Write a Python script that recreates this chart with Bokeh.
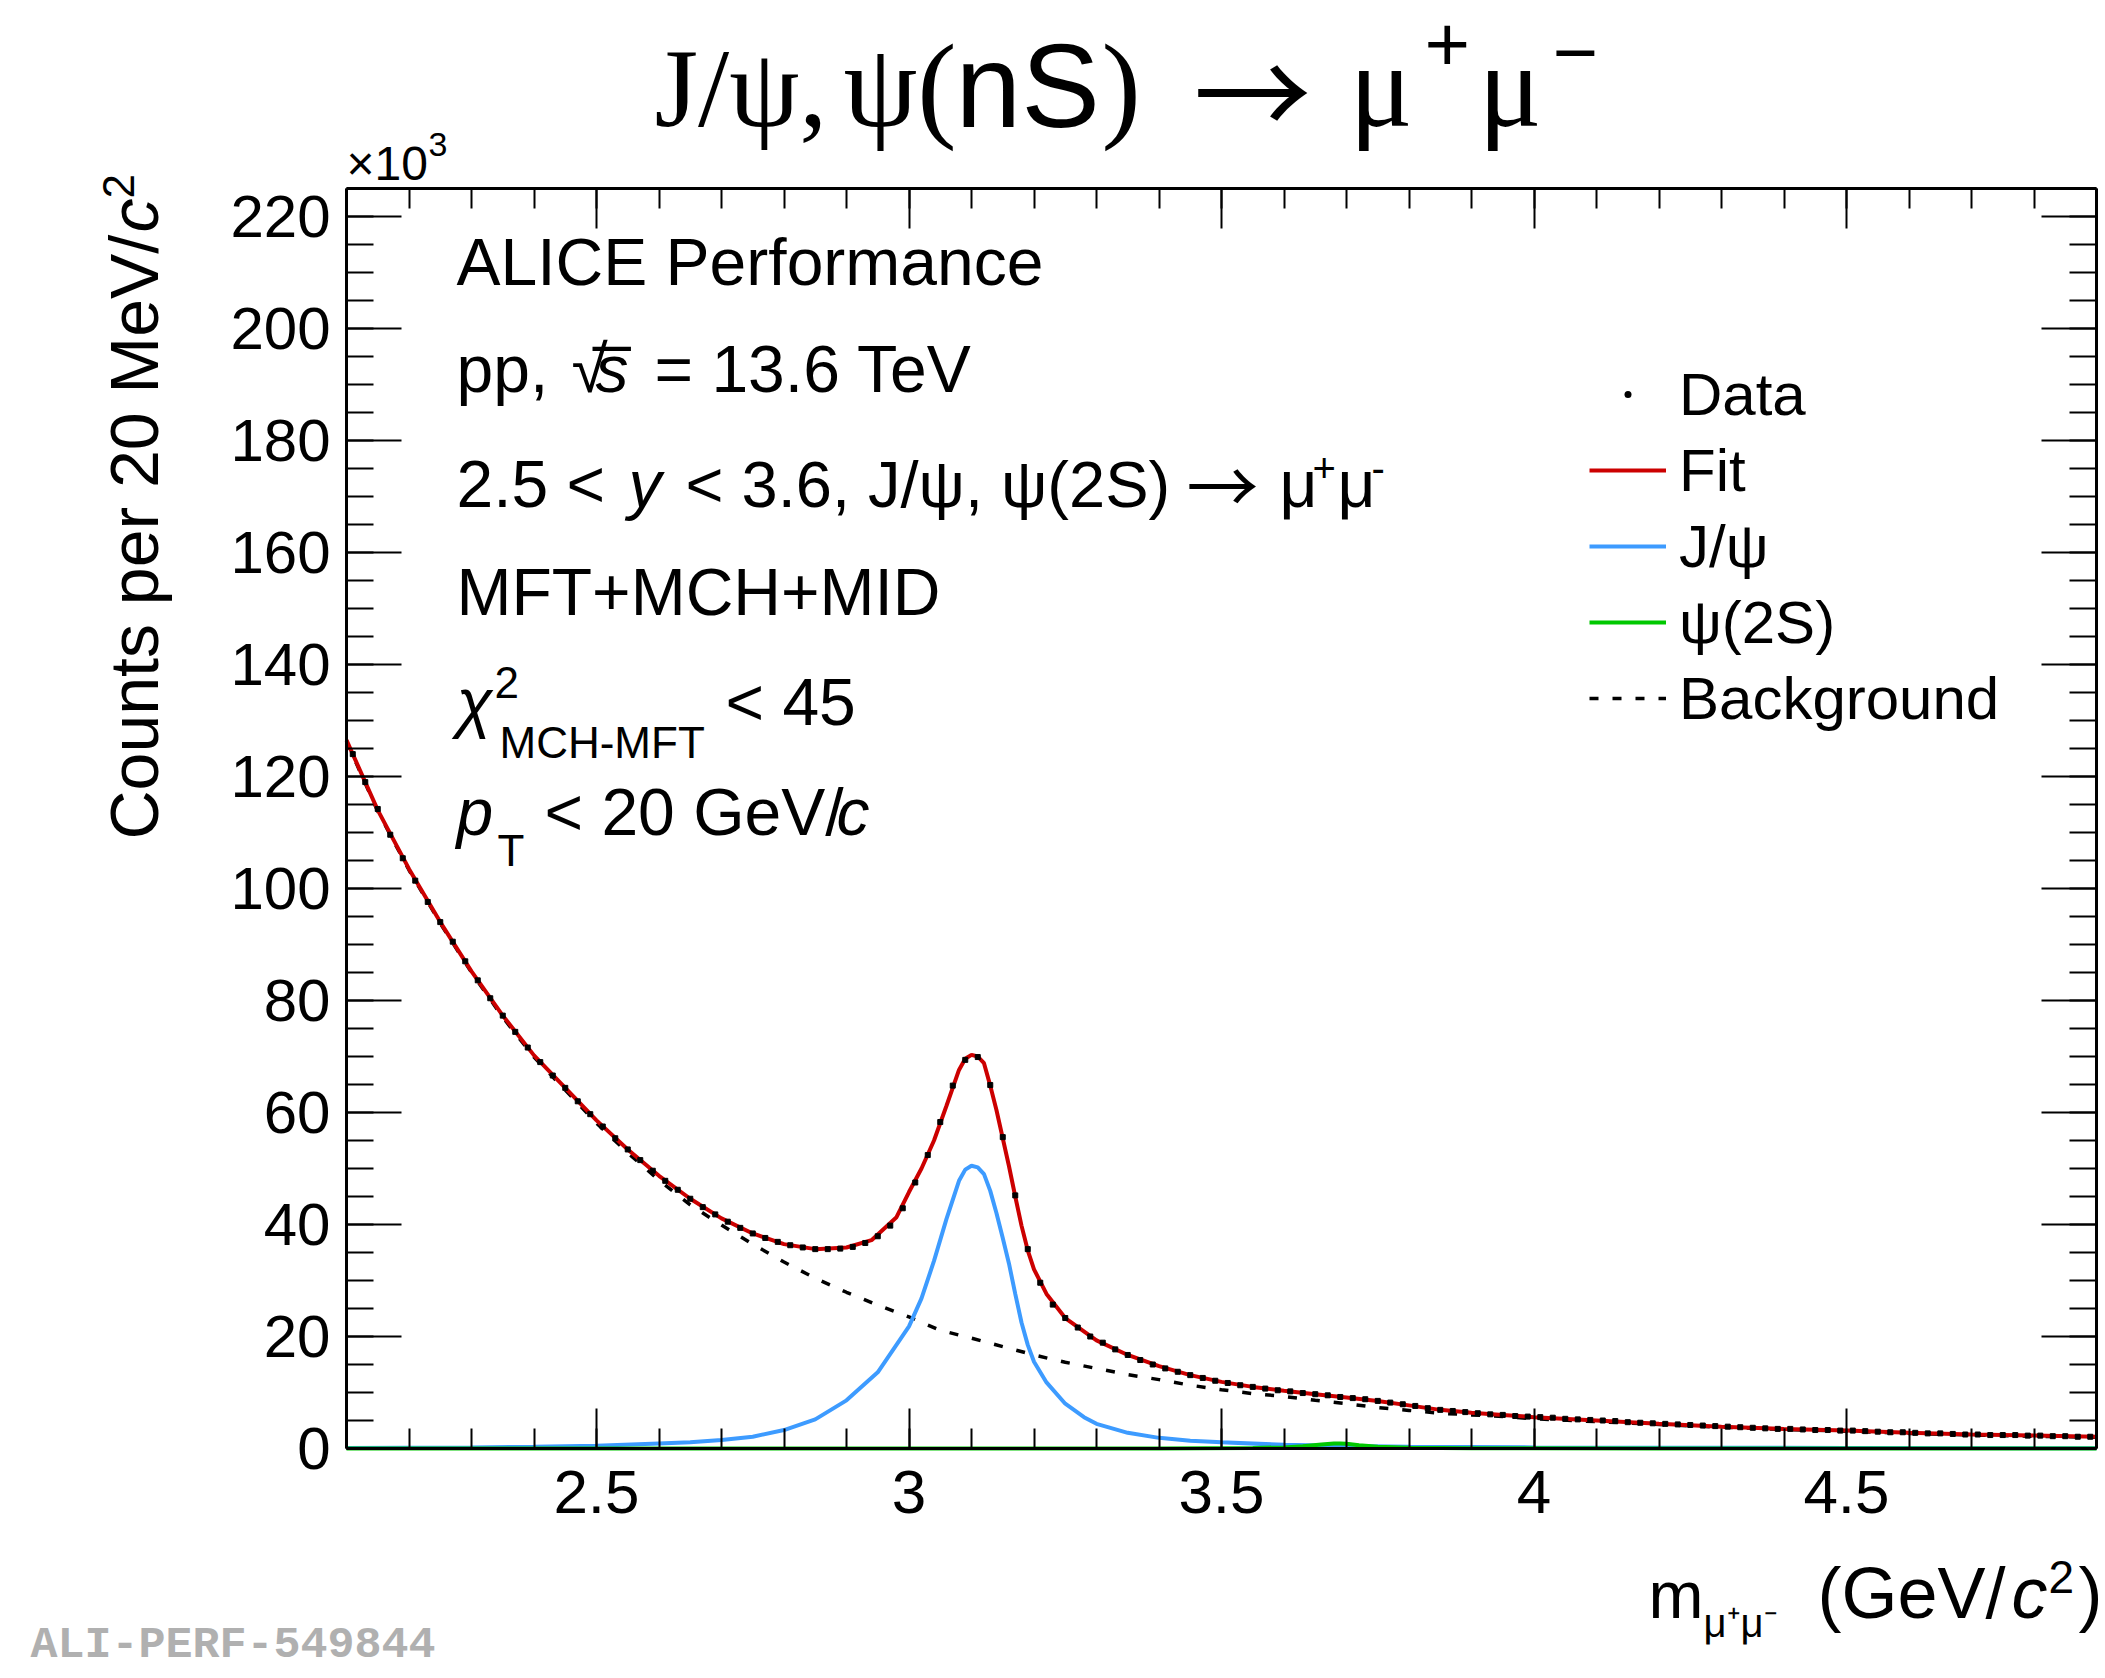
import numpy as np
from bokeh.plotting import figure
from bokeh.models import (Range1d, LinearAxis, SingleIntervalTicker, NumeralTickFormatter,
                          Label, Legend, LegendItem, CustomLabelingPolicy)
from bokeh.embed import file_html
from bokeh.resources import INLINE

# ---------------- data (counts in units of 10^3) -------------
X_MIN, X_MAX = 2.1, 4.9
Y_MIN, Y_MAX = 0.0, 225.0
BIN_WIDTH = 0.02

data_counts = [
    124.0, 119.0, 114.2, 109.6, 105.4, 101.4, 97.6, 94.0, 90.5, 87.0,
    83.6, 80.4, 77.3, 74.4, 71.6, 69.0, 66.6, 64.4, 62.0, 59.7,
    57.5, 55.4, 53.4, 51.5, 49.6, 47.8, 46.2, 44.6, 43.1, 41.8,
    40.5, 39.4, 38.4, 37.6, 36.9, 36.3, 35.9, 35.6, 35.6, 35.7,
    36.0, 36.7, 37.9, 39.8, 42.9, 47.5, 52.4, 58.3, 64.8, 69.4,
    69.9, 64.9, 55.6, 45.2, 35.6, 29.6, 25.7, 23.3, 21.6, 20.0,
    18.9, 17.7, 16.7, 15.8, 15.0, 14.3, 13.7, 13.1, 12.6, 12.1,
    11.7, 11.3, 11.0, 10.7, 10.4, 10.2, 9.9, 9.7, 9.5, 9.2,
    9.0, 8.8, 8.5, 8.2, 7.9, 7.6, 7.2, 6.9, 6.7, 6.5,
    6.3, 6.1, 6.0, 5.8, 5.7, 5.6, 5.5, 5.3, 5.2, 5.1,
    5.0, 4.9, 4.7, 4.6, 4.5, 4.4, 4.3, 4.2, 4.1, 4.0,
    3.9, 3.8, 3.7, 3.6, 3.5, 3.5, 3.4, 3.3, 3.3, 3.2,
    3.2, 3.1, 3.0, 2.9, 2.9, 2.8, 2.7, 2.7, 2.6, 2.5,
    2.5, 2.4, 2.4, 2.4, 2.3, 2.3, 2.2, 2.2, 2.1, 2.1,
]

fit_mass = [2.10, 2.15, 2.20, 2.25, 2.30, 2.35, 2.40, 2.45, 2.50, 2.55, 2.60, 2.65, 2.70, 2.75,
            2.80, 2.85, 2.90, 2.94, 2.98, 3.00, 3.02, 3.04, 3.06, 3.08, 3.09, 3.10, 3.11, 3.12,
            3.13, 3.14, 3.15, 3.16, 3.17, 3.18, 3.19, 3.20, 3.22, 3.25, 3.30, 3.35, 3.40, 3.45,
            3.50, 3.55, 3.60, 3.65, 3.70, 3.75, 3.80, 3.85, 3.90, 3.95, 4.00, 4.10, 4.20, 4.30,
            4.40, 4.50, 4.60, 4.70, 4.80, 4.90]
fit_counts = [126.5, 114.0, 103.5, 94.0, 85.2, 77.3, 70.2, 64.4, 58.6, 53.4, 48.7, 44.6, 41.1, 38.4,
              36.5, 35.6, 35.9, 37.2, 41.3, 45.8, 50.0, 55.0, 61.2, 67.6, 69.6, 70.3, 70.0, 68.8,
              64.8, 60.4, 55.4, 50.4, 45.0, 39.8, 35.4, 32.0, 27.6, 23.3, 19.3, 16.7, 14.7, 13.1,
              11.9, 11.0, 10.3, 9.7, 9.1, 8.5, 7.7, 6.9, 6.4, 6.0, 5.6, 5.0, 4.4, 3.9,
              3.5, 3.2, 2.8, 2.5, 2.3, 2.1]

bkg_mass = [2.10, 2.15, 2.20, 2.25, 2.30, 2.35, 2.40, 2.45, 2.50, 2.55, 2.60, 2.65, 2.70, 2.75,
            2.80, 2.85, 2.90, 2.95, 3.00, 3.05, 3.10, 3.15, 3.20, 3.25, 3.30, 3.35, 3.40, 3.45,
            3.50, 3.55, 3.60, 3.65, 3.70, 3.75, 3.80, 3.85, 3.90, 3.95, 4.00, 4.10, 4.20, 4.30,
            4.40, 4.50, 4.60, 4.70, 4.80, 4.90]
bkg_counts = [126.3, 113.8, 103.3, 93.8, 85.0, 77.0, 69.9, 64.0, 58.1, 52.8, 47.9, 43.5, 39.9, 36.5,
              33.3, 30.4, 27.9, 25.6, 23.5, 21.1, 19.7, 18.2, 16.7, 15.4, 14.3, 13.2, 12.3, 11.3,
              10.5, 9.8, 9.3, 8.6, 8.0, 7.3, 6.8, 6.3, 6.0, 5.7, 5.3, 4.8, 4.3, 3.8,
              3.4, 3.1, 2.7, 2.4, 2.2, 2.0]

jpsi_mass = [2.10, 2.20, 2.30, 2.40, 2.50, 2.60, 2.65, 2.70, 2.75, 2.80, 2.85, 2.90, 2.95, 3.00,
             3.02, 3.04, 3.06, 3.08, 3.09, 3.10, 3.11, 3.12, 3.13, 3.14, 3.15, 3.16, 3.17, 3.18,
             3.19, 3.20, 3.22, 3.25, 3.28, 3.30, 3.35, 3.40, 3.45, 3.50, 3.60, 3.70, 3.80, 4.00,
             4.50, 4.90]
jpsi_counts = [0.1, 0.15, 0.2, 0.3, 0.5, 0.9, 1.1, 1.5, 2.1, 3.3, 5.2, 8.6, 13.6, 21.8,
               26.8, 33.5, 41.0, 47.8, 49.8, 50.5, 50.2, 49.0, 46.0, 42.0, 37.6, 33.0, 27.6, 22.5,
               18.5, 15.5, 11.8, 8.0, 5.6, 4.4, 2.8, 1.9, 1.4, 1.1, 0.65, 0.45, 0.3, 0.2,
               0.1, 0.05]

psi2s_mass = [2.10, 3.40, 3.55, 3.60, 3.63, 3.66, 3.68, 3.69, 3.70, 3.72, 3.75, 3.80, 3.90, 4.20, 4.90]
psi2s_counts = [0.0, 0.02, 0.1, 0.2, 0.4, 0.7, 0.9, 0.9, 0.85, 0.6, 0.3, 0.12, 0.05, 0.01, 0.0]

legend_labels = ["Data", "Fit", "J/\u03c8", "\u03c8(2S)", "Background"]

bin_centers = X_MIN + BIN_WIDTH * (np.arange(len(data_counts)) + 0.5)

# ---------------- layout (canvas pixels) ----------------
W, H = 2105, 1678
BX0, BX1 = 346, 2096      # axis box left / right
BY0, BY1 = 188, 1448      # axis box top / bottom

sx = (BX1 - BX0) / (X_MAX - X_MIN)
sy = (BY1 - BY0) / (Y_MAX - Y_MIN)
xr = Range1d(X_MIN - BX0 / sx, X_MAX + (W - BX1) / sx)
yr = Range1d(Y_MIN - (H - BY1) / sy, Y_MAX + BY0 / sy)

def dx(px):
    return X_MIN + (px - BX0) / sx

def dy(py):
    return Y_MIN + (BY1 - py) / sy

p = figure(width=W, height=H, output_backend="svg", toolbar_location=None,
           x_range=xr, y_range=yr, min_border=0,
           x_axis_location=None, y_axis_location=None)
p.title.visible = False
p.grid.visible = False
p.outline_line_color = None
p.background_fill_color = "white"
p.border_fill_color = "white"

SANS = "Liberation Sans"
SERIF = "Liberation Serif"
ARROW = "Noto Sans CJK SC"

no_labels = CustomLabelingPolicy(code="for (const i of indices) { indices.unset(i) }\nreturn indices")

def make_axis(place, interval, nminor, fixed, bounds, major_in, minor_in, labels=True):
    ax = LinearAxis(ticker=SingleIntervalTicker(interval=interval, num_minor_ticks=nminor),
                    fixed_location=fixed, bounds=bounds)
    ax.axis_line_color = "black"
    ax.axis_line_width = 3
    ax.major_tick_line_color = "black"
    ax.minor_tick_line_color = "black"
    ax.major_tick_line_width = 2
    ax.minor_tick_line_width = 2
    ax.major_tick_in = major_in
    ax.major_tick_out = 0
    ax.minor_tick_in = minor_in
    ax.minor_tick_out = 0
    ax.major_label_text_font = SANS
    ax.major_label_text_color = "black"
    if not labels:
        ax.major_label_policy = no_labels
    p.add_layout(ax, place)
    return ax

xa = make_axis("below", 0.5, 5, Y_MIN, (X_MIN, X_MAX), 40, 20)
xa.formatter = NumeralTickFormatter(format="0.[0]")
xa.major_label_text_font_size = "62px"
xa.major_label_standoff = 22

ya = make_axis("left", 20, 4, X_MIN, (Y_MIN, Y_MAX), 55, 27)
ya.major_label_text_font_size = "60px"
ya.major_label_standoff = 16

make_axis("above", 0.5, 5, Y_MAX, (X_MIN, X_MAX), 40, 20, labels=False)
make_axis("right", 20, 4, X_MAX, (Y_MIN, Y_MAX), 55, 27, labels=False)

# ---------------- glyphs ----------------
r_bkg = p.line(bkg_mass, bkg_counts, line_color="black", line_width=3.5, line_dash="9 14")
r_jpsi = p.line(jpsi_mass, jpsi_counts, line_color="#3d9bff", line_width=4)
r_psi2s = p.line(psi2s_mass, psi2s_counts, line_color="#00c800", line_width=4)
r_fit = p.line(fit_mass, fit_counts, line_color="#cc0000", line_width=4)
r_data = p.scatter(bin_centers, data_counts, marker="square", size=5,
                   fill_color="black", line_color="black")
# legend symbol of the data points (a small dot; NaN position, so nothing is drawn in the plot)
r_data_key = p.scatter(x=[np.nan], y=[np.nan], marker="dot", size=22,
                       fill_color="black", line_color="black")

legend = Legend(items=[LegendItem(label=legend_labels[0], renderers=[r_data_key]),
                       LegendItem(label=legend_labels[1], renderers=[r_fit]),
                       LegendItem(label=legend_labels[2], renderers=[r_jpsi]),
                       LegendItem(label=legend_labels[3], renderers=[r_psi2s]),
                       LegendItem(label=legend_labels[4], renderers=[r_bkg])],
                location=(1579, H - 743), orientation="vertical",
                label_text_font=SANS, label_text_font_size="60px", label_text_color="black",
                glyph_width=77, glyph_height=70, label_height=70, label_standoff=13,
                spacing=6, padding=10, margin=0,
                border_line_alpha=0, background_fill_alpha=0)
p.add_layout(legend)

# ---------------- texts ----------------
K = 0.36   # measured offset of the drawn baseline, in em

def txt(t, px, py, size, font=SANS, style="normal", align="left", color="black", rotated=False):
    if rotated:
        px, angle = px - K * size, np.pi / 2
    else:
        py, angle = py - K * size, 0.0
    p.add_layout(Label(x=dx(px), y=dy(py), text=t, text_font=font,
                       text_font_size=f"{size}px", text_font_style=style,
                       text_align=align, text_baseline="alphabetic", text_color=color,
                       angle=angle))

# main title
TB = 128
TS = 118
txt("J/\u03c8,", 654, TB, 112, font=SERIF)
txt("\u03c8(", 843, TB, TS, font=SERIF)
txt("nS", 955, TB, TS, font=SANS)
txt(")", 1101, TB, TS, font=SERIF)
txt("\u2192", 1193, TB, TS, font=ARROW)
txt("\u03bc", 1349, TB, TS, font=SERIF)
txt("+", 1424, 72, 78, font=SANS)
txt("\u03bc", 1478, TB, TS, font=SERIF)
txt("\u2212", 1552, 80, 78, font=SANS)

# x10^3
txt("\u00d710", 346, 180, 48)
txt("3", 428, 156, 34)

# y axis title (rotated)
txt("Counts per 20 MeV/", 158, 839, 68, rotated=True)
txt("c", 158, 232, 68, style="italic", rotated=True)
txt("2", 134, 198, 44, rotated=True)

# x axis title
txt("m", 1648, 1618, 66)
txt("\u03bc\u207a\u03bc\u207b", 1703, 1637, 40)
txt("(GeV/", 1817, 1618, 72)
txt("c", 2011, 1618, 72, style="italic")
txt("2", 2048, 1593, 46)
txt(")", 2078, 1618, 72)

# info block
L = 456
FS = 66
txt("ALICE Performance", L, 285, FS)
txt("pp,", L, 392, FS)
txt("\u221a", 571, 392, FS)
txt("_", 593, 338, FS)
txt("s", 595, 392, FS, style="italic")
txt("= 13.6 TeV", 654, 392, FS)
txt("2.5 <", L, 507, FS)
txt("y", 628, 507, FS, style="italic")
txt("< 3.6, J/\u03c8, \u03c8(2S)", 685, 507, 65)
txt("\u2192", 1186, 507, 72, font=ARROW)
txt("\u03bc", 1279, 507, FS)
txt("+", 1312, 482, 40)
txt("\u03bc", 1337, 507, FS)
txt("-", 1371, 482, 40)
txt("MFT+MCH+MID", L, 615, FS)
txt("\u03c7", L, 725, FS, style="italic")
txt("2", 494, 698, 44)
txt("MCH-MFT", 499, 758, 44)
txt("< 45", 725, 725, FS)
txt("p", L, 835, FS, style="italic")
txt("T", 497, 866, 44)
txt("< 20 GeV/", 544, 835, FS)
txt("c", 836, 835, FS, style="italic")

# watermark
txt("ALI-PERF-549844", 30, 1661, 45, font="Liberation Mono", style="bold", color="#b0b0b0")

open("out.html", "w").write(file_html(p, INLINE))
